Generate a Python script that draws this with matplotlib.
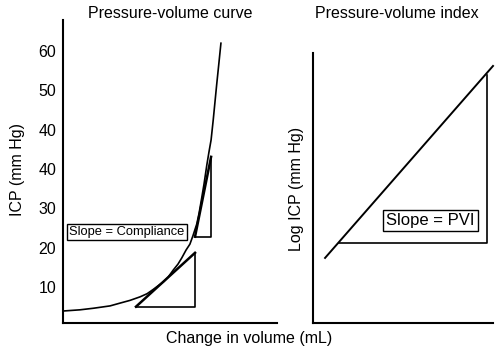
import matplotlib
matplotlib.use('Agg')
import matplotlib.pyplot as plt

plt.rcParams['font.family'] = ['Liberation Sans', 'DejaVu Sans']

# Left panel: pressure-volume curve
curve_x = [0.1, 7.9, 14.2, 22.0, 26.6, 31.3, 36.0, 39.3, 42.2, 44.4, 46.9, 49.1, 51.5, 53.7,
           55.5, 57.5, 59.3, 60.7, 62.5, 63.6, 64.8, 65.9, 67.2, 68.2, 69.2, 70.2, 71.8, 72.9, 73.8]
curve_y = [3.9, 4.2, 4.6, 5.2, 5.9, 6.6, 7.5, 8.3, 9.4, 10.3, 11.3, 12.5, 14.3, 15.8,
           17.4, 19.4, 20.9, 23.0, 26.0, 28.8, 32.6, 36.2, 41.0, 44.3, 47.4, 52.5, 61.4, 67.2, 72.0]

low_tri_x = [34.1, 61.7, 61.7]
low_tri_y = [5.0, 5.0, 18.7]
up_tri_x = [61.7, 69.2, 69.2]
up_tri_y = [22.8, 22.8, 43.1]

y_ticks = [10, 20, 30, 40, 50, 60, 70]
y_tick_labels = ['10', '20', '30', '40', '40', '50', '60']

# Right panel: pressure-volume index
pvi_x = [6.7, 100]
pvi_y = [24.1, 95.2]
pvi_tri_x = [14.5, 96.6, 96.6]
pvi_tri_y = [29.6, 29.6, 91.9]

fig = plt.figure(figsize=(5, 3.52), dpi=100)

ax1 = fig.add_axes([63 / 500, 29 / 352, 214 / 500, 303 / 352])
ax1.plot(curve_x, curve_y, color='black', lw=1.2)
# triangles: legs thin, hypotenuse thick
ax1.plot(low_tri_x, low_tri_y, color='black', lw=1.2)
ax1.plot([low_tri_x[0], low_tri_x[2]], [low_tri_y[0], low_tri_y[2]], color='black', lw=1.8)
ax1.plot(up_tri_x, up_tri_y, color='black', lw=1.2)
ax1.plot([up_tri_x[0], up_tri_x[2]], [up_tri_y[0], up_tri_y[2]], color='black', lw=1.8)
ax1.text(29.9, 24.0, 'Slope = Compliance', fontsize=9.3, ha='center', va='center',
         bbox=dict(boxstyle='square,pad=0.15', fc='white', ec='black', lw=1.0))
ax1.set_xlim(0, 100)
ax1.set_ylim(0.85, 77.9)
ax1.set_yticks(y_ticks)
ax1.set_yticklabels(y_tick_labels, fontsize=11.5)
ax1.set_xticks([])
ax1.tick_params(axis='y', length=0, pad=5)

ax2 = fig.add_axes([313 / 500, 29 / 352, 180 / 500, 270 / 352])
ax2.plot(pvi_x, pvi_y, color='black', lw=1.4, clip_on=False)
ax2.plot(pvi_tri_x, pvi_tri_y, color='black', lw=1.2)
ax2.text(65.4, 38.0, 'Slope = PVI', fontsize=12, ha='center', va='center',
         bbox=dict(boxstyle='square,pad=0.2', fc='white', ec='black', lw=1.0))
ax2.set_xlim(0, 100)
ax2.set_ylim(0, 100)
ax2.set_xticks([])
ax2.set_yticks([])

for ax in (ax1, ax2):
    ax.spines['top'].set_visible(False)
    ax.spines['right'].set_visible(False)
    ax.spines['left'].set_linewidth(1.5)
    ax.spines['bottom'].set_linewidth(1.5)

fig.text(170 / 500, 1 - 14 / 352, 'Pressure-volume curve', fontsize=11.5, ha='center', va='center')
fig.text(397 / 500, 1 - 14 / 352, 'Pressure-volume index', fontsize=11.5, ha='center', va='center')
fig.text(249 / 500, 1 - 338 / 352, 'Change in volume (mL)', fontsize=11.5, ha='center', va='center')
fig.text(18 / 500, 1 - 169 / 352, 'ICP (mm Hg)', fontsize=11.5, ha='center', va='center', rotation=90)
fig.text(297 / 500, 1 - 189 / 352, 'Log ICP (mm Hg)', fontsize=11.5, ha='center', va='center', rotation=90)

fig.savefig('out.png', dpi=100, facecolor='white')
